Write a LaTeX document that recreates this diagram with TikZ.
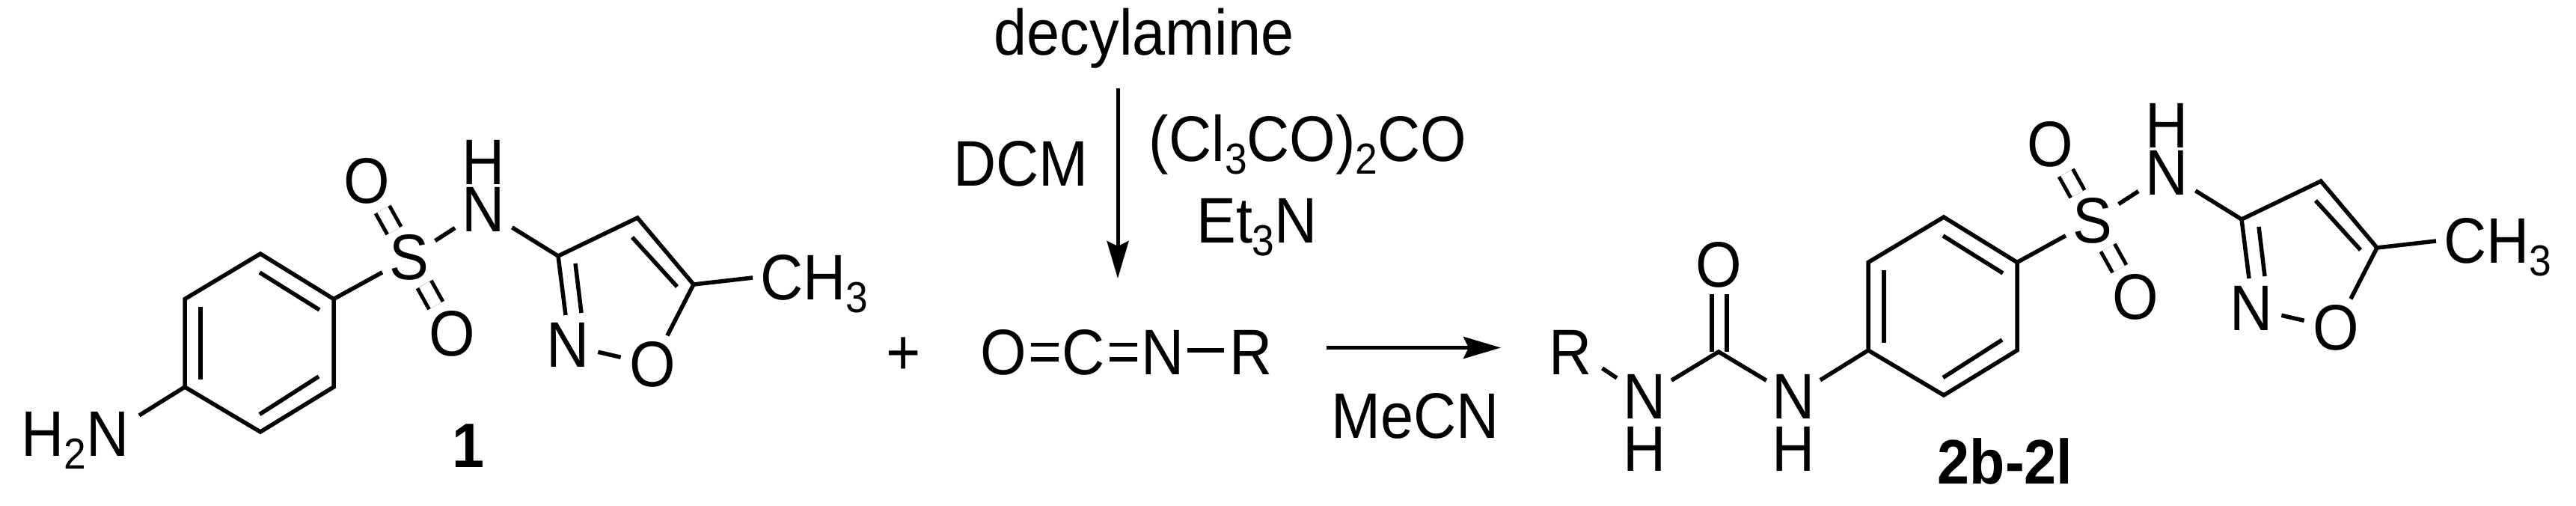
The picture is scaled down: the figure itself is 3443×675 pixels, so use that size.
\documentclass[tikz,border=0pt]{standalone}
\usepackage{fontspec}
\setmainfont[FakeStretch=0.92]{Liberation Sans}
\usetikzlibrary{arrows.meta}
\newcommand{\chemlow}[1]{\raisebox{-17pt}{\fontsize{58}{58}\selectfont #1}}
\tikzset{
  txt/.style={inner sep=0pt,font=\fontsize{86}{86}\selectfont},
  atom/.style={circle,inner sep=0pt,minimum size=#1,font=\fontsize{86}{86}\selectfont},
  atom/.default=84pt,
  bond/.style={line width=5.5pt,line cap=butt,line join=miter},
  rarrow/.style={line width=5pt,-{Stealth[length=50pt,width=29pt,inset=7pt]}},
  cmpd/.style={inner sep=0pt,font=\fontsize{84}{84}\selectfont\bfseries}
}
\newcommand{\sulfamol}{%
  % benzene ring
  \coordinate (r1) at (348,339);
  \coordinate (r2) at (446,399.5);
  \coordinate (r3) at (446,517);
  \coordinate (r4) at (348,577);
  \coordinate (r5) at (247,517);
  \coordinate (r6) at (247,399.5);
  \coordinate (i1a) at (347,364); \coordinate (i1b) at (427,414);
  \coordinate (i2a) at (268,409.5); \coordinate (i2b) at (268,507);
  \coordinate (i3a) at (347,553.5); \coordinate (i3b) at (426,503);
  \draw[bond] (r1)--(r2)--(r3)--(r4)--(r5)--(r6)--cycle;
  \draw[bond] (i1a)--(i1b);
  \draw[bond] (i2a)--(i2b);
  \draw[bond] (i3a)--(i3b);
  % sulfonyl
  \node[atom=82pt] (S) at (547,344) {S};
  \node[atom=80pt] (O1) at (490,242) {O};
  \node[atom=80pt] (O2) at (604,446) {O};
  \node[atom=90pt] (N) at (646,280) {N};
  \node[txt] (HN) at (646,217) {H};
  \draw[bond] (r2)--(S);
  \draw[bond,double,double distance=16pt,line width=5pt] (S)--(O1);
  \draw[bond,double,double distance=16pt,line width=5pt] (S)--(O2);
  \draw[bond] (S)--(N);
  % isoxazole
  \coordinate (c3) at (746,342);
  \coordinate (c4) at (852,291);
  \coordinate (c5) at (927,380);
  \node[atom=80pt] (NI) at (759,461) {N};
  \node[atom=80pt] (OI) at (872,487) {O};
  \coordinate (d1a) at (769,352); \coordinate (d1b) at (777,418);
  \coordinate (d0b) at (756,421);
  \coordinate (d2a) at (845,317); \coordinate (d2b) at (905,383);
  \draw[bond] (N)--(c3);
  \draw[bond] (d0b)--(c3)--(c4)--(c5);
  \draw[bond] (d1a)--(d1b);
  \draw[bond] (d2a)--(d2b);
  \draw[bond] (c5)--(OI);
  \draw[bond] (NI)--(OI);
  % methyl
  \node[txt,anchor=base west] (me) at (1016,400) {CH\chemlow{3}};
  \coordinate (mebond) at (1006,371);
  \draw[bond] (c5)--(mebond);
}
\begin{document}
\begin{tikzpicture}[x=1pt,y=-1pt]
\useasboundingbox (0,0) rectangle (3443,675);
\fill[white] (0,0) rectangle (3443,675);

% compound 1
\begin{scope}[name prefix=a-]
  \sulfamol
\end{scope}
\node[txt,anchor=base west] (nh2) at (28,609) {H\chemlow{2}N};
\coordinate (nh2bond) at (186,555);
\draw[bond] (a-r5)--(nh2bond);
\node[cmpd] (lab1) at (626,596) {1};

% plus
\node[txt] (plus) at (1208,476) {+};

% isocyanate
\node[txt] (iO) at (1341.5,471) {O};
\node[txt] (iC) at (1448,471) {C};
\node[txt] (iN) at (1554,471) {N};
\node[txt] (iR) at (1672,471) {R};
\coordinate (e1a) at (1378,460.5); \coordinate (e1b) at (1415,460.5);
\coordinate (e2a) at (1378,480);   \coordinate (e2b) at (1415,480);
\coordinate (e3a) at (1483,460.5); \coordinate (e3b) at (1520,460.5);
\coordinate (e4a) at (1483,480);   \coordinate (e4b) at (1520,480);
\coordinate (e5a) at (1587,468);   \coordinate (e5b) at (1636,468);
\draw[bond] (e1a)--(e1b);
\draw[bond] (e2a)--(e2b);
\draw[bond] (e3a)--(e3b);
\draw[bond] (e4a)--(e4b);
\draw[bond] (e5a)--(e5b);

% reagents
\node[txt,anchor=base] (amine) at (1529,73) {decylamine};
\node[txt,anchor=base] (dcm) at (1364.5,248) {DCM};
\node[txt,anchor=base] (phos) at (1748,215) {(Cl\chemlow{3}CO)\chemlow{2}CO};
\node[txt,anchor=base] (tea) at (1680,324) {Et\chemlow{3}N};
\node[txt,anchor=base] (mecn) at (1892,585) {MeCN};

% arrows
\coordinate (v1) at (1494,118);
\coordinate (v2) at (1494,372);
\draw[rarrow] (v1)--(v2);
\coordinate (h1) at (1773,464.5);
\coordinate (h2) at (2006,464.5);
\draw[rarrow] (h1)--(h2);

% product
\begin{scope}[shift={(2250,-49)},name prefix=b-]
  \sulfamol
\end{scope}
\node[atom=80pt] (pR) at (2099,471) {R};
\node[atom=84pt] (pN1) at (2198,530) {N};
\node[txt] (pH1) at (2198,600) {H};
\node[atom=84pt] (pN2) at (2397,530) {N};
\node[txt] (pH2) at (2397,600) {H};
\node[atom=88pt] (pO) at (2297,354) {O};
\coordinate (pC) at (2297,470);
\coordinate (q1) at (2288,393); \coordinate (q2) at (2288,470);
\coordinate (q3) at (2308,393); \coordinate (q4) at (2308,470);
\coordinate (rb1) at (2141.5,492); \coordinate (rb2) at (2161,505);
\draw[bond] (rb1)--(rb2);
\draw[bond] (pN1)--(pC)--(pN2);
\draw[bond] (q1)--(q2);
\draw[bond] (q3)--(q4);
\draw[bond] (pN2)--(b-r5);
\node[cmpd,anchor=base] (lab2) at (2680,646) {2b-2l};
\end{tikzpicture}
\end{document}
